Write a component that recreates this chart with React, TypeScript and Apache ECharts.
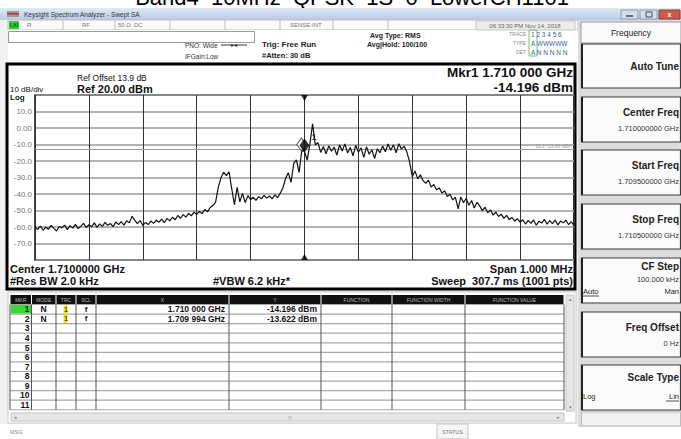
import React, { useEffect, useRef } from "react";
import * as echarts from "echarts";

const FONT = "'Liberation Sans', Arial, sans-serif";

// ---- Data ----
const sweepStartKHz = -500; // relative to center 1.710 GHz
const sweepStepKHz = 5;
const traceDBm = [
  -60.2, -61.5, -59.4, -62.0, -60.1, -61.3, -59.0, -60.8, -62.4, -59.7,
  -60.5, -58.9, -61.6, -59.2, -60.7, -58.4, -61.0, -59.5, -57.8, -60.3,
  -58.6, -59.9, -57.5, -60.2, -58.1, -59.6, -57.2, -59.0, -57.9, -59.8,
  -57.0, -58.6, -56.8, -58.9, -56.2, -57.5, -53.4, -55.8, -57.9, -56.1,
  -59.0, -57.3, -58.5, -56.4, -57.8, -55.9, -57.1, -55.2, -57.4, -54.8,
  -56.3, -54.1, -55.6, -53.0, -54.7, -52.5, -54.0, -51.8, -53.2, -51.0,
  -52.4, -50.6, -51.9, -49.4, -50.8, -48.2, -47.0, -45.1, -36.0, -30.2,
  -26.8, -28.9, -26.5, -36.8, -46.5, -36.0, -44.8, -39.6, -45.2, -41.0,
  -43.5, -42.0, -43.8, -41.6, -42.9, -40.8, -42.5, -41.2, -43.0, -40.5,
  -42.2, -39.5, -36.2, -30.5, -27.2, -33.0, -21.5, -19.3, -27.0, -13.6,
  -14.196,
  -19.5, -9.8, 2.5, -10.2, -8.9, -14.8, -11.2, -15.6, -10.8, -14.1,
  -11.5, -16.4, -10.3, -13.9, -9.6, -15.2, -11.8, -16.9, -10.5, -14.7,
  -12.0, -17.8, -11.4, -15.9, -13.2, -18.5, -12.6, -15.0, -10.9, -14.4,
  -9.7, -13.5, -10.2, -15.1, -9.5, -12.8, -11.0, -14.6, -20.5, -29.5,
  -26.0, -30.8, -28.4, -31.9, -33.5, -31.6, -35.8, -34.2, -37.6, -36.3,
  -39.4, -38.1, -41.5, -40.2, -43.6, -42.0, -49.0, -41.8, -45.3, -42.6,
  -46.8, -43.9, -48.5, -45.0, -47.2, -50.1, -48.0, -51.4, -49.6, -52.8,
  -50.9, -53.6, -52.2, -54.8, -53.0, -55.5, -54.3, -56.4, -54.9, -57.1,
  -55.6, -58.2, -56.0, -57.8, -55.7, -58.9, -56.5, -57.6, -55.4, -58.3,
  -56.1, -57.9, -55.8, -58.7, -56.4, -57.5, -55.9, -58.6, -56.8, -59.2,
];
const yMin = -80;
const yMax = 20;
const yStep = 10;
const displayLineDBm = -13;
const markerFreqKHz = [0, -6];
const markerLevelDBm = [-14.196, -13.622];

const mkrNums = ["1", "2", "3", "4", "5", "6", "7", "8", "9", "10", "11"];
const mkrModes = ["N", "N"];
const mkrTraces = ["1", "1"];
const mkrScales = ["f", "f"];
const mkrX = ["1.710 000 GHz", "1.709 994 GHz"];
const mkrY = ["-14.196 dBm", "-13.622 dBm"];
const tableHeaders = ["MKR", "MODE", "TRC", "SCL", "X", "Y", "FUNCTION", "FUNCTION WIDTH", "FUNCTION VALUE"];

const softkeyTitles = ["Auto Tune", "Center Freq", "Start Freq", "Stop Freq", "CF Step", "Freq Offset", "Scale Type"];
const softkeyValues = ["", "1.710000000 GHz", "1.709500000 GHz", "1.710500000 GHz", "100.000 kHz", "0 Hz", ""];

// ---- graphic helpers ----
const R = (x: number, y: number, w: number, h: number, fill: any, stroke?: string, lw = 1, z = 1) => ({
  type: "rect", z, silent: true,
  shape: { x, y, width: w, height: h },
  style: { fill, stroke: stroke || null, lineWidth: lw },
});
const T = (x: number, y: number, text: string, size: number, o: any = {}) => ({
  type: "text", z: o.z ?? 3, silent: true, x, y,
  style: {
    text, fontSize: size, fontFamily: FONT,
    fontWeight: o.bold ? "bold" : "normal",
    fill: o.color || "#111",
    align: o.align || "left", verticalAlign: "middle",
    textAlign: o.align || "left", textVerticalAlign: "middle",
  },
});
const L = (x1: number, y1: number, x2: number, y2: number, color: string, lw = 1, z = 2) => ({
  type: "line", z, silent: true,
  shape: { x1, y1, x2, y2 },
  style: { stroke: color, lineWidth: lw },
});

function buildGraphics() {
  const g: any[] = [];
  // title above the screenshot (clipped at the top, as in the reference)
  g.push(T(352, -3, "Band4_10MHz_QPSK_1S_0_LowerCH1101", 22, { align: "center", z: 0, color: "#000" }));
  // window background
  g.push(R(0, 8, 681, 431, "#f1f1f1", undefined, 1, 1));
  // title bar
  g.push(R(0, 8, 681, 12, new echarts.graphic.LinearGradient(0, 0, 0, 1, [
    { offset: 0, color: "#dfe9f6" }, { offset: 1, color: "#b7cbe5" },
  ]), undefined, 1, 1));
  g.push(R(7, 11, 12, 6, "#9a9a9a", undefined, 1, 2));
  g.push(R(7, 13, 12, 1.5, "#c03030", undefined, 1, 2));
  g.push(T(24, 14, "Keysight Spectrum Analyzer - Swept SA", 6.5, { color: "#333" }));
  g.push(R(621, 10, 17, 9, "#d4deeb", "#8a9ab0", 1, 2));
  g.push(L(626, 16, 633, 16, "#445", 1.5, 3));
  g.push(R(640, 10, 17, 9, "#d4deeb", "#8a9ab0", 1, 2));
  g.push(R(646, 12, 6, 5, "none", "#445", 1, 3));
  g.push(R(659, 10, 21, 9, "#cf5a4a", "#8a3a30", 1, 2));
  g.push(T(669.5, 14.5, "x", 7, { align: "center", color: "#fff", bold: true }));

  // status row
  g.push(R(8, 20, 570, 10, "#fbfbfb", "#bdbdbd", 1, 1));
  g.push(R(9, 21, 10, 8, "#2ed12e", undefined, 1, 2));
  g.push(T(14, 25, "LXI", 5, { align: "center", color: "#063", bold: true }));
  [63, 115, 170, 225, 280, 333, 388].forEach((x) => g.push(L(x, 20, x, 30, "#bdbdbd", 1)));
  g.push(T(27, 25, "R", 6, { color: "#777" }));
  g.push(T(82, 25, "RF", 6, { color: "#777" }));
  g.push(T(118, 25, "50 Ω", 6, { color: "#777" }));
  g.push(T(134, 25, "DC", 6, { color: "#777" }));
  g.push(T(290, 25, "SENSE:INT", 6, { color: "#777" }));
  g.push(R(476, 21, 99, 9, "#ececec", "#c5c5c5", 1, 2));
  g.push(T(525, 25.5, "06:33:30 PM Nov 14, 2018", 6, { align: "center", color: "#666" }));

  // settings row
  g.push(R(8, 30, 570, 32, "#ffffff", undefined, 1, 1));
  g.push(R(8.5, 31.5, 246, 11, "#ffffff", "#9a9a9a", 1, 2));
  g.push(T(185, 45, "PNO: Wide", 6.5, { color: "#333" }));
  g.push(L(221, 45, 247, 45, "#333", 1, 3));
  g.push(T(234, 45, "▸◂", 6, { align: "center", color: "#333" }));
  g.push(T(185, 56, "IFGain:Low", 6.5, { color: "#333" }));
  g.push(T(262, 44, "Trig: Free Run", 8, { bold: true, color: "#222" }));
  g.push(T(262, 55.5, "#Atten: 30 dB", 7.5, { bold: true, color: "#222" }));
  g.push(T(370, 35, "Avg Type: RMS", 7, { bold: true, color: "#222" }));
  g.push(T(367, 44, "Avg|Hold: 100/100", 7, { bold: true, color: "#222" }));
  g.push(T(526, 34, "TRACE", 5, { align: "right", color: "#888" }));
  g.push(T(526, 43, "TYPE", 5, { align: "right", color: "#888" }));
  g.push(T(526, 52, "DET", 5, { align: "right", color: "#888" }));
  g.push(R(529, 30, 8, 26, "none", "#6c6", 1, 2));
  g.push(T(531, 34.5, "1 2 3 4 5 6", 6.5, { color: "#3b5d95" }));
  g.push(T(531, 43.5, "A WWWWW", 6.5, { color: "#3b5d95" }));
  g.push(T(531, 52.5, "A N N N N N", 6.5, { color: "#3b5d95" }));

  // main display panel
  g.push(R(7, 64, 568, 225, "#ffffff", "#000", 3, 1));
  g.push(T(77, 78, "Ref Offset 13.9 dB", 8.5, { color: "#111" }));
  g.push(T(10, 89.5, "10 dB/div", 8, { color: "#111" }));
  g.push(T(77, 88.5, "Ref 20.00 dBm", 11, { bold: true, color: "#111" }));
  g.push(T(10, 97, "Log", 8, { bold: true, color: "#111" }));
  g.push(T(573, 72, "Mkr1 1.710 000 GHz", 13.5, { bold: true, align: "right" }));
  g.push(T(573, 87, "-14.196 dBm", 13.5, { bold: true, align: "right" }));
  g.push(T(572, 146, "DL1 -13.00 dBm", 5, { align: "right", color: "#999" }));
  g.push(T(10, 268.5, "Center 1.7100000 GHz", 11, { bold: true }));
  g.push(T(573, 268.5, "Span 1.000 MHz", 11, { bold: true, align: "right" }));
  g.push(T(10, 281, "#Res BW 2.0 kHz", 11, { bold: true }));
  g.push(T(213, 281, "#VBW 6.2 kHz*", 11, { bold: true }));
  g.push(T(573, 281, "Sweep  307.7 ms (1001 pts)", 11, { bold: true, align: "right" }));

  // marker table
  const edges = [10, 31.5, 56, 76, 96, 229, 321, 392, 465, 564];
  const y0 = 304.5;
  const rh = 9.57;
  g.push(R(8, 292, 568, 131, "#ffffff", "#c8c8c8", 1, 1));
  for (let c = 0; c < edges.length - 1; c++) {
    g.push(R(edges[c] + 0.5, 295, edges[c + 1] - edges[c] - 1, 9, "#111", undefined, 1, 2));
    g.push(T((edges[c] + edges[c + 1]) / 2, 299.5, tableHeaders[c], 5, { align: "center", color: "#bbb" }));
  }
  for (let r = 0; r <= mkrNums.length; r++) {
    g.push(L(10, y0 + r * rh, 564, y0 + r * rh, "#a8a8a8", 1.2));
  }
  edges.forEach((x) => g.push(L(x, y0, x, y0 + mkrNums.length * rh, "#555", 1)));
  g.push(R(11, y0 + 0.5, 20, rh - 1, "#36d936", undefined, 1, 2));
  mkrNums.forEach((n, i) => {
    const cy = y0 + i * rh + rh / 2;
    g.push(T(29.5, cy, n, 8.5, { bold: true, align: "right" }));
    if (i < mkrModes.length) {
      g.push(T(43.5, cy, mkrModes[i], 8.5, { bold: true, align: "center" }));
      g.push(R(63.5, cy - 4, 4, 8, "#f5ea10", undefined, 1, 2));
      g.push(T(66, cy, mkrTraces[i], 8, { align: "center", color: "#111" }));
      g.push(T(86, cy, mkrScales[i], 8, { bold: true, align: "center" }));
      g.push(T(225, cy, mkrX[i], 8.5, { bold: true, align: "right" }));
      g.push(T(317, cy, mkrY[i], 8.5, { bold: true, align: "right" }));
    }
  });
  // scrollbars
  g.push(R(566, 295, 8, 116, "#e6e6e6", "#c4c4c4", 1, 2));
  g.push(T(570, 299, "▴", 5, { align: "center", color: "#777" }));
  g.push(T(570, 407, "▾", 5, { align: "center", color: "#777" }));
  g.push(R(11, 413, 553, 8, "#e6e6e6", "#c4c4c4", 1, 2));
  g.push(T(15, 417, "◂", 5, { align: "center", color: "#777" }));
  g.push(T(558, 417, "▸", 5, { align: "center", color: "#777" }));
  g.push(T(290, 417, "III", 4, { align: "center", color: "#999" }));

  // bottom status
  g.push(R(0, 424, 578, 15, "#ffffff", undefined, 1, 1));
  g.push(T(10, 432, "MSG", 5.5, { color: "#888" }));
  g.push(R(437, 424, 31, 15, "#f6f6f6", "#c4c4c4", 1, 2));
  g.push(T(452.5, 432, "STATUS", 5.5, { align: "center", color: "#777" }));

  // softkey panel
  g.push(R(578, 20, 103, 419, "#dcdcdc", undefined, 1, 1));
  g.push(R(581, 22, 100, 21, "#fafafa", "#9a9a9a", 1, 2));
  g.push(T(631, 32.5, "Frequency", 8.5, { align: "center", color: "#222" }));
  const boxes = [[44, 88], [97, 142], [150, 195], [204, 249], [258, 303], [312, 357], [365, 410]];
  boxes.forEach(([a, b], i) => {
    g.push(R(581.5, a, 99, b - a, "#fbfbfb", "#3a3a3a", 1.2, 2));
    g.push(L(582, a, 582, b, "#222", 2, 3));
    const hasVal = softkeyValues[i] !== "";
    let ty = hasVal ? a + 15 : (a + b) / 2;
    if (i === 4) ty = a + 8;
    if (i === 6) ty = a + 12;
    g.push(T(679, ty, softkeyTitles[i], 10, { bold: true, align: "right", color: "#222" }));
    if (hasVal) {
      const vy = i === 4 ? a + 21 : a + 31;
      g.push(T(679, vy, softkeyValues[i], 7.5, { align: "right", color: "#333" }));
    }
  });
  g.push(T(583, 291, "Auto", 7.5, { color: "#222" }));
  g.push(L(583, 296, 599, 296, "#222", 0.8, 3));
  g.push(T(679, 291, "Man", 7.5, { align: "right", color: "#222" }));
  g.push(T(583, 396, "Log", 7.5, { color: "#222" }));
  g.push(T(679, 396, "Lin", 7.5, { align: "right", color: "#222" }));
  g.push(L(666, 401, 679, 401, "#222", 0.8, 3));
  g.push(R(581.5, 412, 99, 14, "#f0f0f0", "#bbb", 1, 2));
  g.push(R(578, 427, 103, 12, "#ffffff", undefined, 1, 2));
  return g;
}

export default function App() {
  const ref = useRef<HTMLDivElement>(null);
  useEffect(() => {
    if (!ref.current) return;
    const chart = echarts.init(ref.current, undefined, { renderer: "svg" });
    const traceData = traceDBm.map((v, i) => [sweepStartKHz + i * sweepStepKHz, v]);
    const yLabel = (v: number) => {
      if (v === yMax || v === yMin) return "";
      if (v === 0) return "0.00";
      return v.toFixed(1);
    };
    chart.setOption({
      animation: false,
      backgroundColor: "#ffffff",
      textStyle: { fontFamily: FONT },
      grid: {
        left: 35, top: 95, width: 539, height: 165,
        show: true, borderColor: "#111", borderWidth: 1.5, backgroundColor: "transparent", z: 4,
      },
      xAxis: {
        type: "value", min: -500, max: 500, interval: 100, z: 4,
        axisLine: { show: false }, axisTick: { show: false }, axisLabel: { show: false },
        splitLine: { show: true, lineStyle: { color: "#333", width: 1 } },
      },
      yAxis: {
        type: "value", min: yMin, max: yMax, interval: yStep, z: 4,
        axisLine: { show: false }, axisTick: { show: false },
        axisLabel: { formatter: yLabel, color: "#777", fontSize: 8, margin: 3, fontFamily: FONT },
        splitLine: { show: true, lineStyle: { color: "#9a9a9a", width: 1.5 } },
      },
      graphic: buildGraphics(),
      series: [
        {
          type: "line", data: traceData, symbol: "none", z: 6,
          lineStyle: { color: "#111", width: 1.2 },
          markLine: {
            silent: true, symbol: ["none", "none"], label: { show: false },
            lineStyle: { color: "#9a9a9a", width: 1.2, type: "solid" },
            data: [{ yAxis: displayLineDBm }],
          },
        },
        {
          type: "scatter", z: 7, data: [[markerFreqKHz[1], markerLevelDBm[1]]],
          symbol: "diamond", symbolSize: [9, 13], symbolOffset: [0, -6],
          itemStyle: { color: "#ffffff", borderColor: "#333", borderWidth: 1 },
        },
        {
          type: "scatter", z: 8, data: [[markerFreqKHz[0], markerLevelDBm[0]]],
          symbol: "diamond", symbolSize: [10, 14], symbolOffset: [0, -6],
          itemStyle: { color: "#000" },
          label: { show: true, formatter: "1", position: "right", distance: 2, offset: [0, -8], fontSize: 9, fontWeight: "bold", color: "#111" },
        },
        {
          type: "scatter", z: 8, data: [[markerFreqKHz[0], yMax]],
          symbol: "triangle", symbolRotate: 180, symbolSize: [7, 6], symbolOffset: [0, 3],
          itemStyle: { color: "#000" },
        },
        {
          type: "scatter", z: 8, data: [[markerFreqKHz[0], yMin]],
          symbol: "triangle", symbolSize: [7, 6], symbolOffset: [0, -3],
          itemStyle: { color: "#000" },
        },
      ],
    });
    return () => chart.dispose();
  }, []);
  return (
    <div
      ref={ref}
      style={{ position: "absolute", left: 0, top: 0, width: 681, height: 439 }}
    />
  );
}
